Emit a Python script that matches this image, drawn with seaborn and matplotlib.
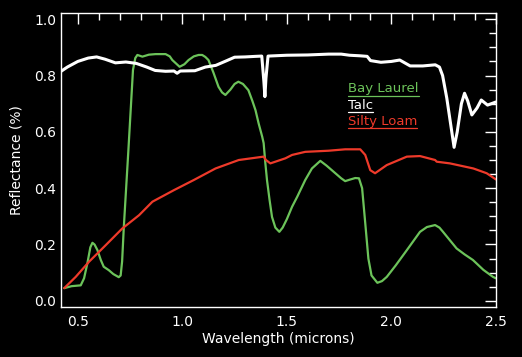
import numpy as np
import pandas as pd
import matplotlib
matplotlib.use("Agg")
import matplotlib.pyplot as plt
import seaborn as sns

# Спектры отражения, значения
laurel_wl = [0.435, 0.47, 0.514, 0.53, 0.546, 0.56, 0.570, 0.58, 0.594, 0.61, 0.624, 0.648,
             0.67, 0.696, 0.705, 0.712, 0.720, 0.742, 0.764, 0.775, 0.785, 0.809, 0.84,
             0.872, 0.92, 0.94, 0.952, 0.987, 1.01, 1.030, 1.055, 1.078, 1.095, 1.11, 1.125,
             1.149, 1.173, 1.19, 1.206, 1.23, 1.25, 1.268, 1.29, 1.316, 1.335, 1.350, 1.365,
             1.382, 1.389, 1.397, 1.405, 1.417, 1.429, 1.445, 1.464, 1.48, 1.50, 1.525,
             1.55, 1.588, 1.62, 1.66, 1.69, 1.732, 1.76, 1.779, 1.80, 1.827, 1.845, 1.86,
             1.875, 1.89, 1.905, 1.933, 1.955, 1.978, 2.02, 2.074, 2.137, 2.17, 2.209,
             2.23, 2.247, 2.28, 2.312, 2.35, 2.39, 2.44, 2.486, 2.50]
laurel_refl = [0.045, 0.052, 0.055, 0.08, 0.134, 0.19, 0.206, 0.20, 0.18, 0.145, 0.121, 0.109,
               0.095, 0.084, 0.09, 0.14, 0.26, 0.535, 0.82, 0.862, 0.873, 0.867, 0.874,
               0.876, 0.876, 0.868, 0.855, 0.831, 0.84, 0.855, 0.868, 0.873, 0.873, 0.866,
               0.855, 0.81, 0.76, 0.74, 0.731, 0.75, 0.77, 0.778, 0.77, 0.748, 0.71, 0.677,
               0.63, 0.583, 0.56, 0.49, 0.429, 0.36, 0.298, 0.26, 0.245, 0.26, 0.29, 0.334,
               0.37, 0.429, 0.47, 0.497, 0.48, 0.453, 0.435, 0.425, 0.43, 0.436, 0.435, 0.40,
               0.276, 0.15, 0.09, 0.064, 0.07, 0.085, 0.125, 0.18, 0.245, 0.262, 0.269,
               0.26, 0.245, 0.215, 0.186, 0.165, 0.145, 0.11, 0.085, 0.08]

talc_wl = [0.42, 0.45, 0.50, 0.55, 0.59, 0.63, 0.68, 0.73, 0.78, 0.83, 0.87, 0.92, 0.96,
           0.975, 0.99, 1.06, 1.11, 1.16, 1.21, 1.25, 1.30, 1.35, 1.38, 1.39, 1.395, 1.40,
           1.41, 1.50, 1.60, 1.70, 1.76, 1.80, 1.85, 1.884, 1.90, 1.95, 2.00, 2.04, 2.09,
           2.15, 2.21, 2.23, 2.245, 2.265, 2.285, 2.30, 2.315, 2.335, 2.35, 2.365, 2.385,
           2.41, 2.43, 2.46, 2.50]
talc_refl = [0.815, 0.83, 0.85, 0.862, 0.866, 0.858, 0.845, 0.848, 0.843, 0.83, 0.818,
             0.815, 0.816, 0.808, 0.816, 0.817, 0.83, 0.836, 0.852, 0.865, 0.866, 0.868,
             0.869, 0.78, 0.725, 0.79, 0.869, 0.872, 0.873, 0.876, 0.876, 0.872, 0.87,
             0.868, 0.853, 0.847, 0.85, 0.855, 0.834, 0.834, 0.838, 0.83, 0.80, 0.72, 0.62,
             0.545, 0.60, 0.70, 0.737, 0.71, 0.66, 0.685, 0.713, 0.695, 0.706]

loam_wl = [0.435, 0.490, 0.554, 0.634, 0.713, 0.793, 0.857, 0.960, 1.055, 1.159, 1.270,
           1.389, 1.40, 1.421, 1.493, 1.525, 1.588, 1.700, 1.779, 1.851, 1.875, 1.899,
           1.922, 1.978, 2.074, 2.137, 2.209, 2.217, 2.280, 2.392, 2.456, 2.50]
loam_refl = [0.045, 0.085, 0.139, 0.198, 0.257, 0.304, 0.352, 0.393, 0.429, 0.47, 0.50,
             0.512, 0.50, 0.488, 0.506, 0.518, 0.529, 0.533, 0.538, 0.538, 0.518, 0.464,
             0.453, 0.482, 0.512, 0.514, 0.50, 0.494, 0.488, 0.47, 0.453, 0.431]

names = ['Bay Laurel', 'Talc', 'Silty Loam']
colors = ['#6cc35a', '#ffffff', '#ee3a2a']
widths = [1.6, 2.2, 1.6]

df = pd.concat([
    pd.DataFrame({'wl': laurel_wl, 'refl': laurel_refl, 'name': names[0]}),
    pd.DataFrame({'wl': talc_wl, 'refl': talc_refl, 'name': names[1]}),
    pd.DataFrame({'wl': loam_wl, 'refl': loam_refl, 'name': names[2]}),
])

sns.set_style('dark', {'axes.facecolor': 'black', 'figure.facecolor': 'black'})
plt.rcParams['font.family'] = ['DejaVu Sans']

fig = plt.figure(figsize=(5.22, 3.57), dpi=100)
ax = fig.add_axes([0.117, 0.140, 0.833, 0.8236])
ax.set_facecolor('black')

for name, color, lw in zip(names, colors, widths):
    sub = df[df['name'] == name]
    sns.lineplot(data=sub, x='wl', y='refl', color=color, linewidth=lw,
                 estimator=None, sort=False, ax=ax)

ax.set_xlim(0.42, 2.5)
ax.set_ylim(-0.022, 1.022)
ax.set_xticks([0.5, 1.0, 1.5, 2.0, 2.5])
ax.set_yticks([0.0, 0.2, 0.4, 0.6, 0.8, 1.0])
ax.set_xticks(np.arange(0.5, 2.5, 0.1), minor=True)
ax.set_yticks(np.arange(0.0, 1.0, 0.05), minor=True)
ax.xaxis.set_major_formatter(matplotlib.ticker.FormatStrFormatter('%.1f'))
ax.yaxis.set_major_formatter(matplotlib.ticker.FormatStrFormatter('%.1f'))
ax.tick_params(which='both', direction='in', colors='white', top=True, right=True,
               labelsize=10, width=1)
ax.tick_params(which='major', length=8)
ax.tick_params(which='minor', length=5)
ax.tick_params(axis='x', pad=6)
ax.grid(False)
for s in ax.spines.values():
    s.set_color('white')
    s.set_linewidth(1)
    s.set_visible(True)

ax.set_xlabel('Wavelength (microns)', color='white', fontsize=10, labelpad=2)
ax.set_ylabel('Reflectance (%)', color='white', fontsize=10, labelpad=8)

# подписи-легенда с подчёркиванием
fig.canvas.draw()
renderer = fig.canvas.get_renderer()
legend_y = [0.73, 0.675, 0.62]
for name, color, ly in zip(names, colors, legend_y):
    t = ax.text(0.66, ly, name, color=color, fontsize=9.5, transform=ax.transAxes,
                va='baseline', ha='left')
    bb = t.get_window_extent(renderer).transformed(ax.transAxes.inverted())
    ax.plot([bb.x0, bb.x1], [ly - 0.012, ly - 0.012], color=color, linewidth=0.9,
            transform=ax.transAxes)

fig.savefig('out.png', dpi=100, facecolor='black')
